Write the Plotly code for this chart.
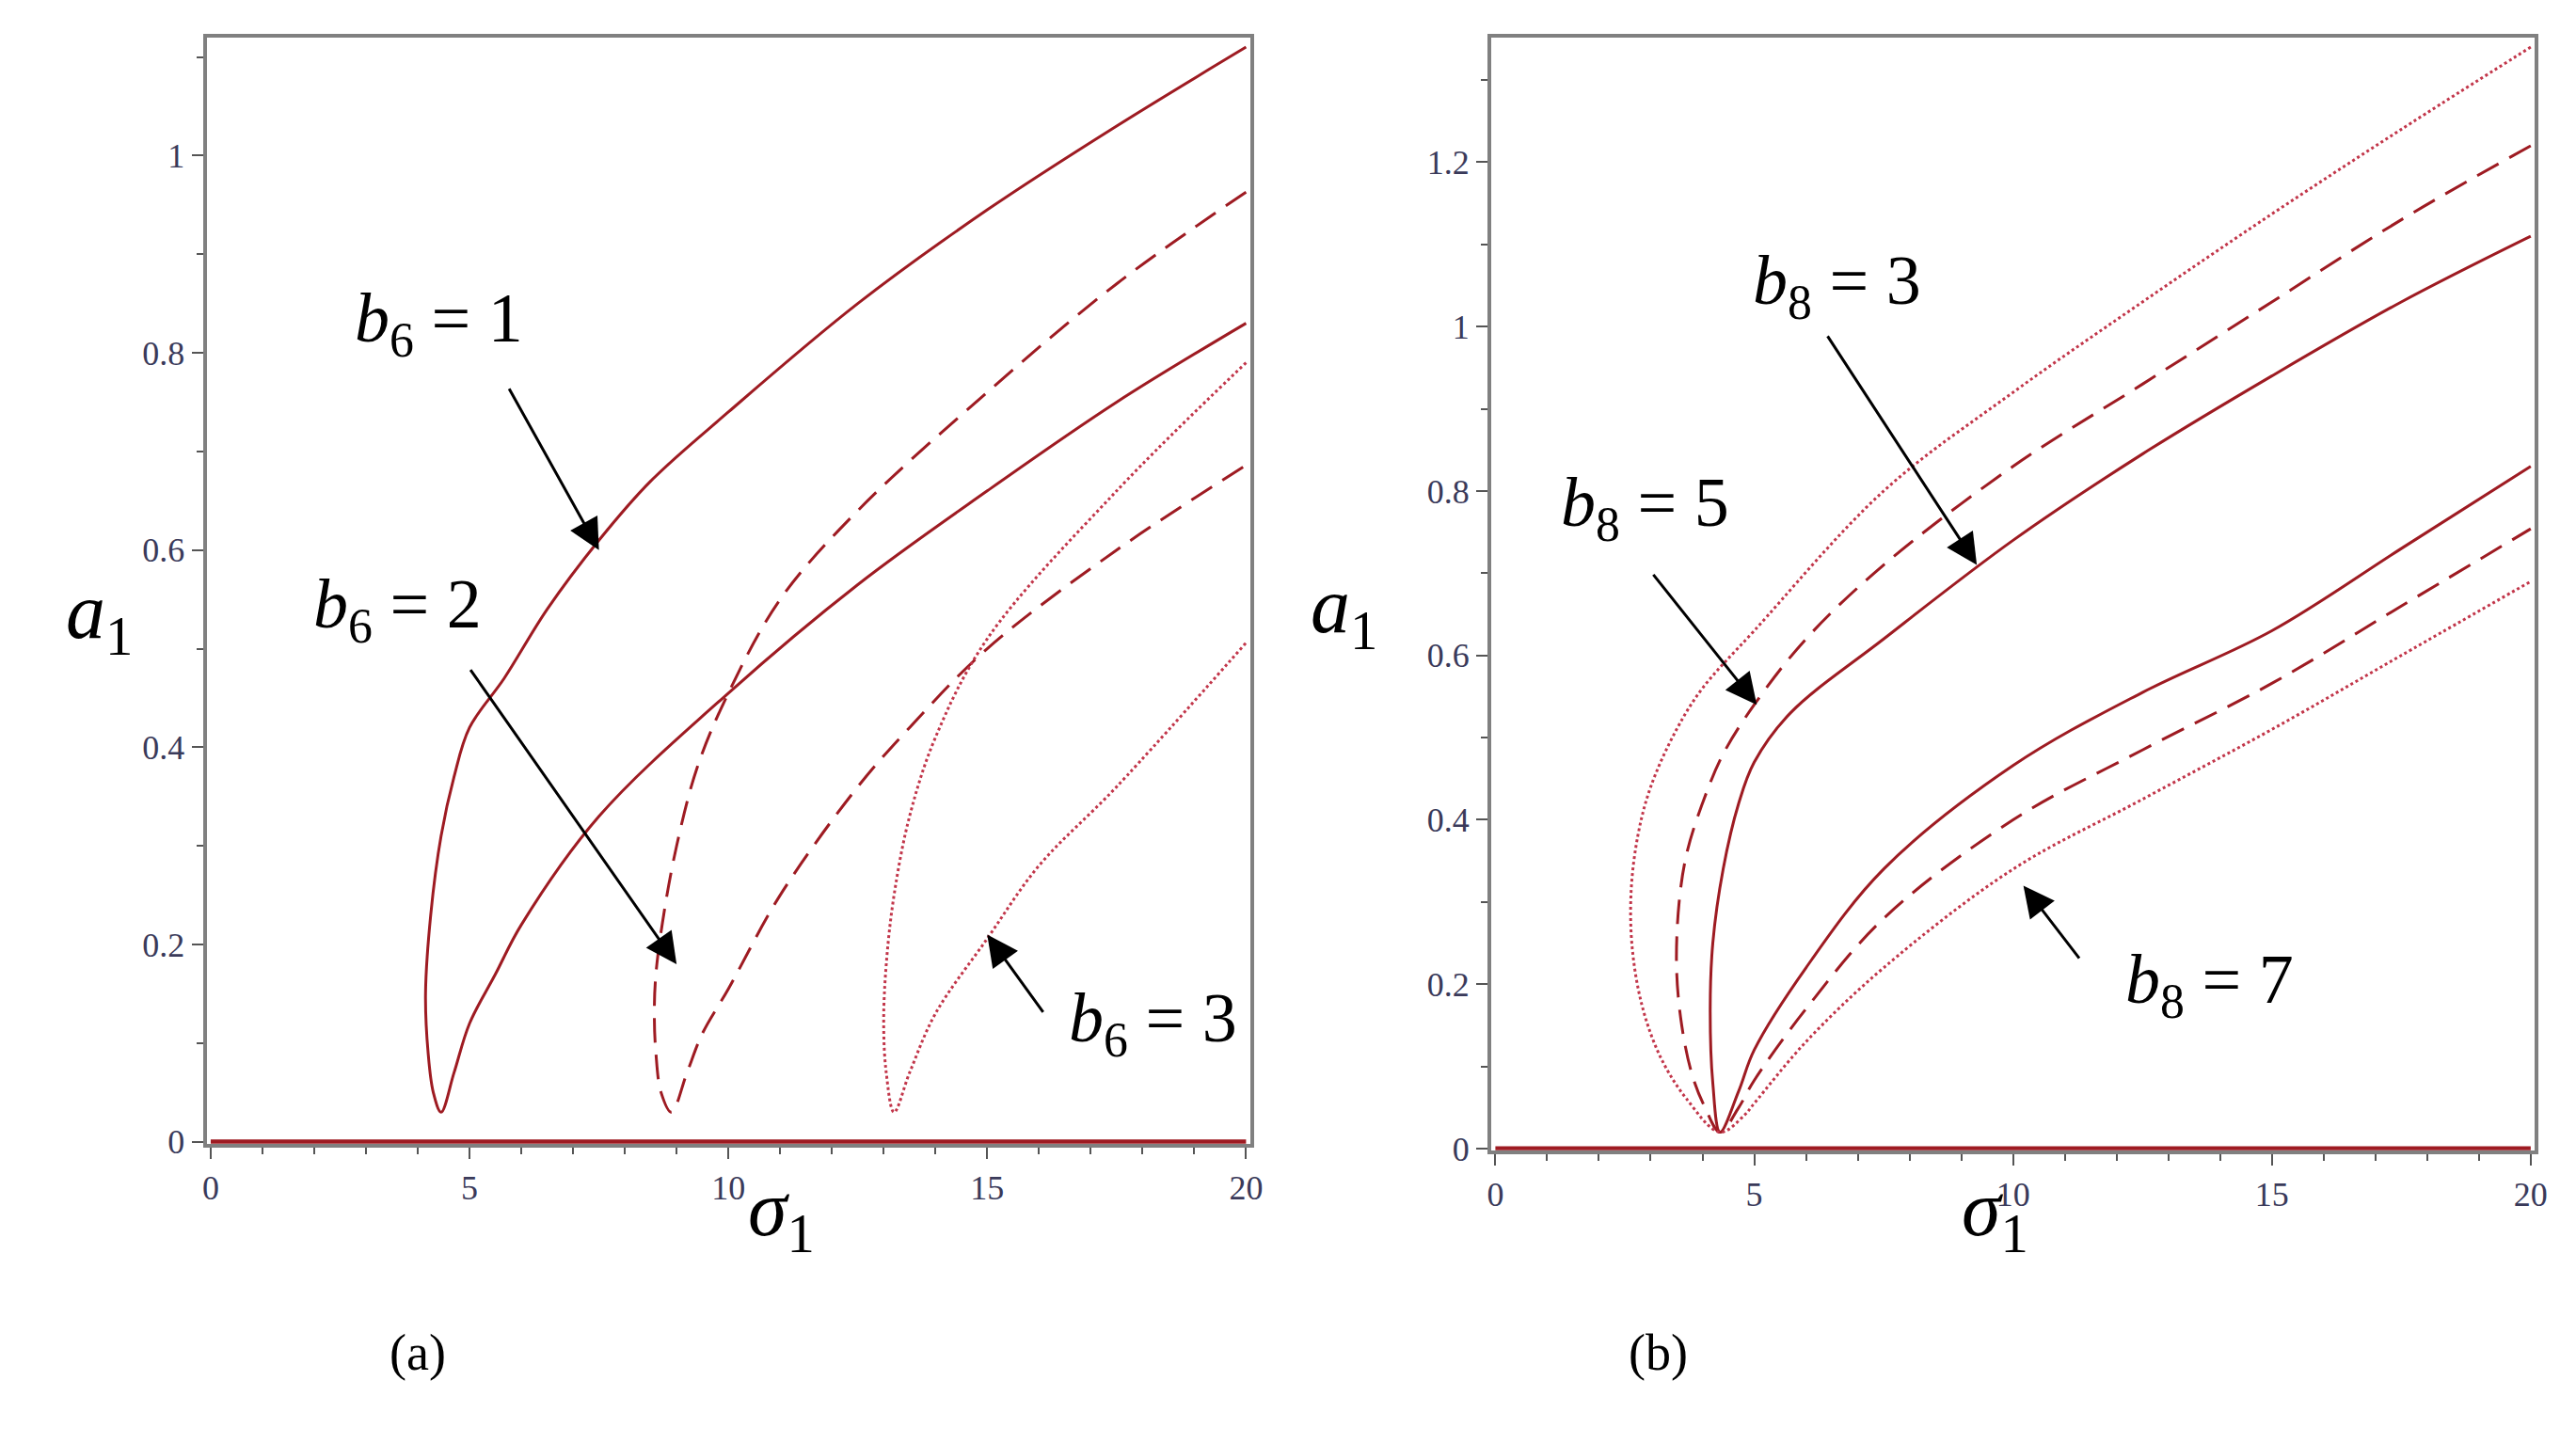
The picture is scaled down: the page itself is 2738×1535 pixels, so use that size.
import plotly.graph_objects as go

W, H = 2738, 1535
RED = "#9e1b22"
DOT = "#c2364a"

# Panel (a): closed loops, upper branch from right end to vertex then lower branch back out
a_solid_s = [20, 17.5, 15, 12.5, 10, 8.5, 7.5, 6.5, 5.67, 5, 4.7, 4.45, 4.25, 4.15, 4.2, 4.3, 4.45, 4.7, 5, 5.5, 6, 7.5, 10, 12.5, 15, 17.5, 20]
a_solid_a = [1.11, 1.03, 0.945, 0.85, 0.74, 0.67, 0.61, 0.54, 0.47, 0.42, 0.37, 0.31, 0.23, 0.15, 0.09, 0.05, 0.03, 0.07, 0.12, 0.17, 0.22, 0.33, 0.455, 0.565, 0.66, 0.75, 0.83]
a_dash_s = [20, 17.5, 15, 12.5, 11, 10, 9.4, 9.0, 8.75, 8.6, 8.57, 8.6, 8.7, 8.9, 9.2, 9.5, 10, 11, 12.5, 13.5, 15, 17.5, 20]
a_dash_a = [0.963, 0.87, 0.76, 0.64, 0.55, 0.455, 0.38, 0.3, 0.23, 0.17, 0.13, 0.09, 0.05, 0.03, 0.07, 0.11, 0.155, 0.25, 0.36, 0.42, 0.5, 0.6, 0.686]
a_dot_s = [20, 17.5, 15, 14, 13.5, 13.2, 13.05, 13.0, 13.05, 13.2, 13.5, 14, 15, 16, 17.5, 20]
a_dot_a = [0.79, 0.66, 0.51, 0.41, 0.33, 0.25, 0.18, 0.12, 0.07, 0.03, 0.07, 0.13, 0.206, 0.28, 0.36, 0.506]

# Panel (b)
b_solid_s = [20, 17.5, 15, 12.5, 10, 7.5, 5.7, 5, 4.7, 4.4, 4.2, 4.15, 4.2, 4.34, 4.7, 5, 6, 7.5, 10, 12.5, 15, 17.5, 20]
b_solid_a = [1.11, 1.03, 0.94, 0.845, 0.74, 0.62, 0.53, 0.47, 0.42, 0.34, 0.25, 0.17, 0.08, 0.02, 0.07, 0.12, 0.22, 0.34, 0.466, 0.555, 0.63, 0.73, 0.83]
b_dash_s = [20, 17.5, 15, 12.5, 10, 7.5, 6, 5, 4.4, 4.0, 3.7, 3.55, 3.5, 3.6, 3.8, 4.05, 4.34, 4.7, 5, 6, 7.5, 10, 12.5, 15, 17.5, 20]
b_dash_a = [1.22, 1.13, 1.03, 0.93, 0.83, 0.71, 0.62, 0.54, 0.48, 0.42, 0.36, 0.3, 0.22, 0.15, 0.09, 0.05, 0.02, 0.05, 0.083, 0.17, 0.28, 0.40, 0.485, 0.566, 0.66, 0.754]
b_dot_s = [20, 17.5, 15, 12.5, 10, 7.5, 5, 4.0, 3.5, 3.0, 2.75, 2.62, 2.65, 2.85, 3.2, 3.7, 4.34, 4.8, 5, 6, 7.5, 10, 12.5, 15, 17.5, 20]
b_dot_a = [1.34, 1.24, 1.137, 1.03, 0.92, 0.80, 0.63, 0.56, 0.51, 0.44, 0.38, 0.31, 0.24, 0.17, 0.11, 0.06, 0.02, 0.04, 0.055, 0.13, 0.22, 0.34, 0.425, 0.51, 0.6, 0.69]

zero_s = [0, 20]
zero_a = [0, 0]

fig = go.Figure()

def add(x, y, dash, color, xa, ya, width=3):
    fig.add_trace(go.Scatter(x=x, y=y, mode="lines", xaxis=xa, yaxis=ya,
                             line=dict(color=color, width=width, dash=dash, shape="spline", smoothing=1.0),
                             showlegend=False, hoverinfo="skip"))

add(a_solid_s, a_solid_a, "solid", RED, "x", "y")
add(a_dash_s, a_dash_a, "26px,13px", RED, "x", "y")
add(a_dot_s, a_dot_a, "dot", DOT, "x", "y")
add(zero_s, zero_a, "solid", RED, "x", "y", 5)
add(b_solid_s, b_solid_a, "solid", RED, "x2", "y2")
add(b_dash_s, b_dash_a, "26px,13px", RED, "x2", "y2")
add(b_dot_s, b_dot_a, "dot", DOT, "x2", "y2")
add(zero_s, zero_a, "solid", RED, "x2", "y2", 5)

axcommon = dict(showline=True, mirror=True, linecolor="#808080", linewidth=4, showgrid=False,
                zeroline=False, ticks="outside", ticklen=12, tickwidth=2, tickcolor="#555",
                tickfont=dict(family="Liberation Serif", size=36, color="#3a3a5a"))
minor = dict(dtick=1, ticks="outside", ticklen=7, tickcolor="#555")
fig.update_layout(
    width=W, height=H, margin=dict(l=0, r=0, t=0, b=0),
    plot_bgcolor="white", paper_bgcolor="white",
    xaxis=dict(domain=[208/W, 1325/W], range=[-0.08, 20.08], dtick=5, minor=minor, anchor="y", **axcommon),
    yaxis=dict(domain=[1-1223/H, 1-32/H], range=[-0.002, 1.12], dtick=0.2, tickformat="~g",
               minor=dict(dtick=0.1, ticks="outside", ticklen=7, tickcolor="#555"), anchor="x", **axcommon),
    xaxis2=dict(domain=[1583/W, 2700/W], range=[-0.08, 20.08], dtick=5, minor=minor, anchor="y2", **axcommon),
    yaxis2=dict(domain=[1-1230/H, 1-32/H], range=[-0.002, 1.352], dtick=0.2, tickformat="~g",
                minor=dict(dtick=0.1, ticks="outside", ticklen=7, tickcolor="#555"), anchor="x2", **axcommon),
)

LF = dict(family="Liberation Serif", size=74, color="black")
def label(x, y, text, xr="x", yr="y"):
    fig.add_annotation(x=x, y=y, xref=xr, yref=yr, text=text, showarrow=False, font=LF)

def arrow(x0, y0, x1, y1, xr="x", yr="y"):
    fig.add_annotation(x=x1, y=y1, ax=x0, ay=y0, xref=xr, yref=yr, axref=xr, ayref=yr,
                       text="", showarrow=True, arrowhead=2, arrowsize=2.2, arrowwidth=3, arrowcolor="black")

label(4.4, 0.83, "<i>b</i><sub>6</sub> = 1")
arrow(5.75, 0.765, 7.5, 0.6)
label(3.6, 0.54, "<i>b</i><sub>6</sub> = 2")
arrow(5.0, 0.48, 9.0, 0.18)
label(18.2, 0.12, "<i>b</i><sub>6</sub> = 3")
arrow(16.1, 0.13, 15.0, 0.21)

label(6.6, 1.05, "<i>b</i><sub>8</sub> = 3", "x2", "y2")
arrow(6.4, 0.99, 9.3, 0.71, "x2", "y2")
label(2.9, 0.78, "<i>b</i><sub>8</sub> = 5", "x2", "y2")
arrow(3.03, 0.70, 5.05, 0.54, "x2", "y2")
label(13.8, 0.2, "<i>b</i><sub>8</sub> = 7", "x2", "y2")
arrow(11.3, 0.23, 10.2, 0.32, "x2", "y2")

TF = dict(family="Liberation Serif", size=84, color="black")
def ptext(px, py, text, font=TF):
    fig.add_annotation(x=px/W, y=1-py/H, xref="paper", yref="paper", text=text, showarrow=False, font=font)

ptext(55, 656, "<i>a</i><sub>1</sub>")
ptext(785, 1355, "<i>σ</i><sub>1</sub>")
ptext(1425, 650, "<i>a</i><sub>1</sub>")
ptext(2160, 1355, "<i>σ</i><sub>1</sub>")
CF = dict(family="Liberation Serif", size=54, color="black")
ptext(402, 1480, "(a)", CF)
ptext(1762, 1480, "(b)", CF)

fig.write_html("out.html")
